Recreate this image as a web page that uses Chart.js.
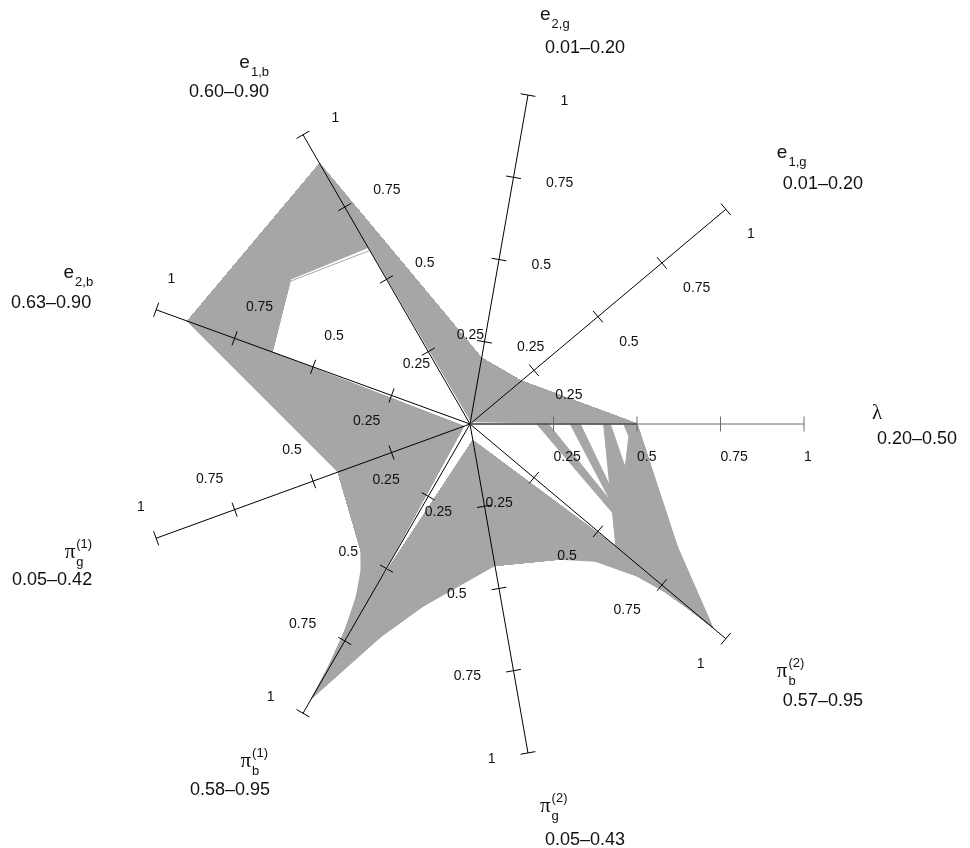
<!DOCTYPE html>
<html>
<head>
<meta charset="utf-8">
<script src="https://cdn.jsdelivr.net/npm/chart.js@4"></script>
<style>
  html, body { margin: 0; padding: 0; background: #fff; }
  canvas { display: block; }
</style>
</head>
<body>
<canvas id="radar" width="970" height="848"></canvas>
<script>
// axes listed counter-clockwise, starting at the right-hand one
const axisNames  = ["λ", "e1,g", "e2,g", "e1,b", "e2,b", "πg(1)", "πb(1)", "πg(2)", "πb(2)"];
const axisSymbol = [["λ", "", ""], ["e", "1,g", ""], ["e", "2,g", ""], ["e", "1,b", ""], ["e", "2,b", ""],
                    ["π", "g", "(1)"], ["π", "b", "(1)"], ["π", "g", "(2)"], ["π", "b", "(2)"]];
const axisRanges = ["0.20–0.50", "0.01–0.20", "0.01–0.20", "0.60–0.90", "0.63–0.90",
                    "0.05–0.42", "0.58–0.95", "0.05–0.43", "0.57–0.95"];
const tickValues = [0.25, 0.5, 0.75, 1];
const tickText   = ["0.25", "0.5", "0.75", "1"];

// parameter sets, one row per trace: [λ, e1g, e2g, e1b, e2b, πg1, πb1, πg2, πb2]
// rows inside one group are filled against their neighbour
const goodErrSweep = [
  [0.50, 0.20, 0.20, 0.90, 0.90, 0.42, 0.58, 0.43, 0.60],
  [0.50, 0.01, 0.01, 0.90, 0.90, 0.42, 0.58, 0.43, 0.60]
];
const badErrEdge = [
  [0.50, 0.20, 0.20, 0.60, 0.90, 0.42, 0.58, 0.43, 0.60]
];
const badErrSweep = [
  [0.50, 0.20, 0.20, 0.61, 0.90, 0.42, 0.58, 0.43, 0.60],
  [0.50, 0.20, 0.20, 0.90, 0.90, 0.42, 0.58, 0.43, 0.60],
  [0.50, 0.20, 0.20, 0.90, 0.63, 0.42, 0.58, 0.43, 0.60],
  [0.50, 0.20, 0.20, 0.90, 0.63, 0.02, 0.58, 0.43, 0.60]
];
const pi1Sweep = [
  [0.50, 0.20, 0.20, 0.90, 0.90, 0.42, 0.58, 0.43, 0.60],
  [0.50, 0.20, 0.20, 0.90, 0.90, 0.35, 0.65, 0.43, 0.60],
  [0.50, 0.20, 0.20, 0.90, 0.90, 0.28, 0.72, 0.43, 0.60],
  [0.50, 0.20, 0.20, 0.90, 0.90, 0.20, 0.80, 0.43, 0.60],
  [0.50, 0.20, 0.20, 0.90, 0.90, 0.12, 0.88, 0.40, 0.60],
  [0.50, 0.20, 0.20, 0.90, 0.90, 0.05, 0.95, 0.35, 0.60],
  [0.50, 0.20, 0.20, 0.90, 0.90, 0.02, 0.95, 0.05, 0.60],
  [0.50, 0.20, 0.20, 0.90, 0.90, 0.02, 0.58, 0.05, 0.60],
  [0.50, 0.20, 0.20, 0.90, 0.90, 0.42, 0.58, 0.05, 0.60],
  [0.50, 0.20, 0.20, 0.90, 0.90, 0.42, 0.58, 0.43, 0.60]
];
const pi2Sweep = [
  [0.50, 0.20, 0.20, 0.90, 0.90, 0.42, 0.58, 0.05, 0.57],
  [0.50, 0.20, 0.20, 0.90, 0.90, 0.42, 0.58, 0.43, 0.57],
  [0.50, 0.20, 0.20, 0.90, 0.90, 0.42, 0.58, 0.40, 0.65],
  [0.50, 0.20, 0.20, 0.90, 0.90, 0.42, 0.58, 0.30, 0.75],
  [0.50, 0.20, 0.20, 0.90, 0.90, 0.42, 0.58, 0.20, 0.82],
  [0.50, 0.20, 0.20, 0.90, 0.90, 0.42, 0.58, 0.10, 0.90],
  [0.46, 0.20, 0.20, 0.90, 0.90, 0.42, 0.58, 0.05, 0.95],
  [0.50, 0.20, 0.20, 0.90, 0.90, 0.42, 0.58, 0.05, 0.90],
  [0.50, 0.20, 0.20, 0.90, 0.90, 0.42, 0.58, 0.05, 0.57]
];
// λ comes in four clusters; each one fans out to its own πb(2) values
const fingerA = [
  [0.200, 0.20, 0.20, 0.90, 0.90, 0.42, 0.58, 0.05, 0.92],
  [0.235, 0.20, 0.20, 0.90, 0.90, 0.42, 0.58, 0.05, 0.95]
];
const fingerB = [
  [0.300, 0.20, 0.20, 0.90, 0.90, 0.42, 0.58, 0.30, 0.70],
  [0.330, 0.20, 0.20, 0.90, 0.90, 0.42, 0.58, 0.30, 0.72]
];
const fingerC = [
  [0.400, 0.20, 0.20, 0.90, 0.90, 0.42, 0.58, 0.43, 0.57],
  [0.420, 0.20, 0.20, 0.90, 0.90, 0.42, 0.58, 0.20, 0.77]
];
const fingerD = [
  [0.480, 0.20, 0.20, 0.90, 0.90, 0.42, 0.58, 0.43, 0.57],
  [0.500, 0.20, 0.20, 0.90, 0.90, 0.42, 0.58, 0.10, 0.90]
];

// label anchors relative to the axis end: [symbol dx, dy, range dx, dy, align]
const nameOffsets = [
  [68, -5, 73, 20, "left"],
  [51, -51, 57, -20, "left"],
  [12, -75, 17, -42, "left"],
  [-34, -67, -34, -38, "right"],
  [-63, -32, -65, -2, "right"],
  [-64, 20, -64, 47, "right"],
  [-35, 54, -33, 82, "right"],
  [12, 59, 17, 92, "left"],
  [51, 38, 57, 67, "left"]
];

// chart.js walks the axes clockwise, so map its index back to ours
const order = [0, 8, 7, 6, 5, 4, 3, 2, 1];
const GRAY = "#a5a6a8";
const allRows = [goodErrSweep, badErrEdge, badErrSweep, pi1Sweep, pi2Sweep, fingerA, fingerB, fingerC, fingerD];

const datasets = [];
allRows.forEach(group => {
  group.forEach((row, k) => {
    datasets.push({
      data: order.map(n => row[n]),
      borderColor: GRAY,
      backgroundColor: GRAY,
      borderWidth: 1,
      pointRadius: 0,
      fill: k === 0 ? false : "-1"
    });
  });
});
// the λ axis is overdrawn by the traces up to their largest λ
const lambdaMax = Math.max(...allRows.flat().map(row => row[0]));

const SANS = '"Liberation Sans", Arial, Helvetica, sans-serif';
const SERIF = '"Liberation Serif", "Times New Roman", serif';

function drawSymbol(ctx, parts, x, y, align) {
  const [main, sub, sup] = parts;
  const mainFont = main === "e" ? "19px " + SANS : "21px " + SERIF;
  const smallFont = "13px " + SANS;
  ctx.font = mainFont;
  const mw = ctx.measureText(main).width;
  ctx.font = smallFont;
  const sw = Math.max(sub ? ctx.measureText(sub).width : 0, sup ? ctx.measureText(sup).width : 0);
  const x0 = align === "right" ? x - mw - sw - 1 : x;
  ctx.textAlign = "left";
  ctx.textBaseline = "alphabetic";
  ctx.font = mainFont;
  ctx.fillText(main, x0, y);
  ctx.font = smallFont;
  if (sub) ctx.fillText(sub, x0 + mw + 1, y + 8);
  if (sup) ctx.fillText(sup, x0 + mw + 1, y - 10);
}

// tick marks, tick labels and axis names
const axisDecor = {
  id: "axisDecor",
  afterDraw(chart) {
    const r = chart.scales.r;
    const ctx = chart.ctx;
    ctx.save();
    // darker stretch of the λ axis under the traces
    const c0 = r.getPointPositionForValue(0, 0);
    const c1 = r.getPointPositionForValue(0, lambdaMax);
    ctx.strokeStyle = "#555";
    ctx.lineWidth = 1.6;
    ctx.beginPath();
    ctx.moveTo(c0.x, c0.y);
    ctx.lineTo(c1.x, c1.y);
    ctx.stroke();

    ctx.fillStyle = "#111";
    for (let i = 0; i < order.length; i++) {
      const n = order[i];
      ctx.strokeStyle = n === 0 ? "#6b6b6b" : "#000";
      ctx.lineWidth = 1;
      tickValues.forEach((v, k) => {
        const p = r.getPointPositionForValue(i, v);
        const px = -Math.sin(p.angle), py = Math.cos(p.angle);
        ctx.beginPath();
        ctx.moveTo(p.x - 7.5 * px, p.y - 7.5 * py);
        ctx.lineTo(p.x + 7.5 * px, p.y + 7.5 * py);
        ctx.stroke();
        ctx.font = "14px " + SANS;
        ctx.textBaseline = "middle";
        ctx.textAlign = px >= -0.01 ? "left" : "right";
        ctx.fillText(tickText[k], p.x + 33 * px, p.y + 33 * py);
      });
      const tip = r.getPointPositionForValue(i, 1);
      const [sx, sy, rx, ry, align] = nameOffsets[n];
      drawSymbol(ctx, axisSymbol[n], tip.x + sx, tip.y + sy, align);
      ctx.font = "18px " + SANS;
      ctx.textBaseline = "alphabetic";
      ctx.textAlign = align;
      ctx.fillText(axisRanges[n], tip.x + rx, tip.y + ry);
    }
    ctx.restore();
  }
};

new Chart(document.getElementById("radar"), {
  type: "radar",
  data: { labels: order.map(n => axisNames[n]), datasets },
  options: {
    responsive: false,
    animation: false,
    events: [],
    layout: { padding: { left: 136, top: 90, right: 166, bottom: 90 } },
    plugins: { legend: { display: false }, tooltip: { enabled: false } },
    elements: { line: { tension: 0 } },
    scales: {
      r: {
        min: 0,
        max: 1,
        startAngle: 90,
        ticks: { display: false },
        pointLabels: { display: false },
        grid: { display: false, z: 1 },
        angleLines: {
          display: true,
          lineWidth: 1,
          color: ctx => (ctx.index === 0 ? "#6b6b6b" : "#000")
        }
      }
    }
  },
  plugins: [axisDecor]
});
</script>
</body>
</html>
